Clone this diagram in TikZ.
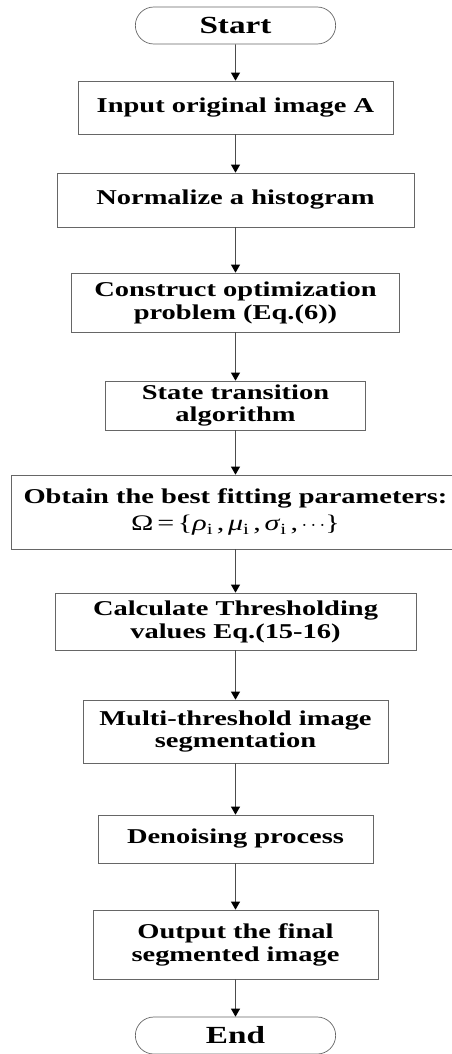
\documentclass[tikz,border=0pt]{standalone}
\usepackage{fontspec}
\setmainfont[FakeStretch=1.35]{Liberation Serif}
\usetikzlibrary{shapes.misc, arrows.meta}

\begin{document}
\begin{tikzpicture}[
    x=0.03cm, y=-0.03cm,
    every node/.style={draw=gray!80!black, line width=0.6pt, align=center, inner sep=2pt,
        font=\fontsize{18}{19.6}\selectfont\bfseries},
    term/.style={rounded rectangle, minimum width=6.15cm, minimum height=1.11cm,
        font=\fontsize{21}{24}\selectfont\bfseries},
    flow/.style={-{Triangle[width=0.27cm, length=0.24cm, color=black]}, line width=0.6pt, draw=gray!60!black}
]
    \clip (0,0) rectangle (452,1054);

    % Nodes
    \node[term] (start) at (235.5, 25.5) {Start};
    \node[minimum width=9.45cm, minimum height=1.59cm] (input) at (235.5, 107.5) {Input original image A};
    \node[minimum width=10.71cm, minimum height=1.62cm] (norm) at (235.5, 200) {Normalize a histogram};
    \node[minimum width=9.84cm, minimum height=1.77cm] (opt) at (235.5, 302.5) {Construct optimization\\problem (Eq.(6))};
    \node[minimum width=7.8cm, minimum height=1.47cm] (sta) at (235.5, 405.5) {State transition\\algorithm};
    \node[minimum width=13.44cm, minimum height=2.22cm] (fit) at (235.5, 512)
        {Obtain the best fitting parameters:\\[4pt]
         {\fontsize{19}{21}\selectfont\mdseries Ω\,=\,\{\textit{ρ}\textsubscript{i}\,,\,\textit{μ}\textsubscript{i}\,,\,\textit{σ}\textsubscript{i}\,,\,$\cdots$\}}};
    \node[minimum width=10.83cm, minimum height=1.71cm] (calc) at (235.5, 621.5) {Calculate Thresholding\\values Eq.(15-16)};
    \node[minimum width=9.15cm, minimum height=1.89cm] (seg) at (235.5, 731.5) {Multi-threshold image\\segmentation};
    \node[minimum width=8.25cm, minimum height=1.44cm] (den) at (235.5, 839) {Denoising process};
    \node[minimum width=8.55cm, minimum height=2.07cm] (out) at (235.5, 944.5) {Output the final\\segmented image};
    \node[term] (end) at (235.5, 1035.5) {End};

    % Edges
    \draw[flow] (start) -- (input);
    \draw[flow] (input) -- (norm);
    \draw[flow] (norm) -- (opt);
    \draw[flow] (opt) -- (sta);
    \draw[flow] (sta) -- (fit);
    \draw[flow] (fit) -- (calc);
    \draw[flow] (calc) -- (seg);
    \draw[flow] (seg) -- (den);
    \draw[flow] (den) -- (out);
    \draw[flow] (out) -- (end);
\end{tikzpicture}
\end{document}
